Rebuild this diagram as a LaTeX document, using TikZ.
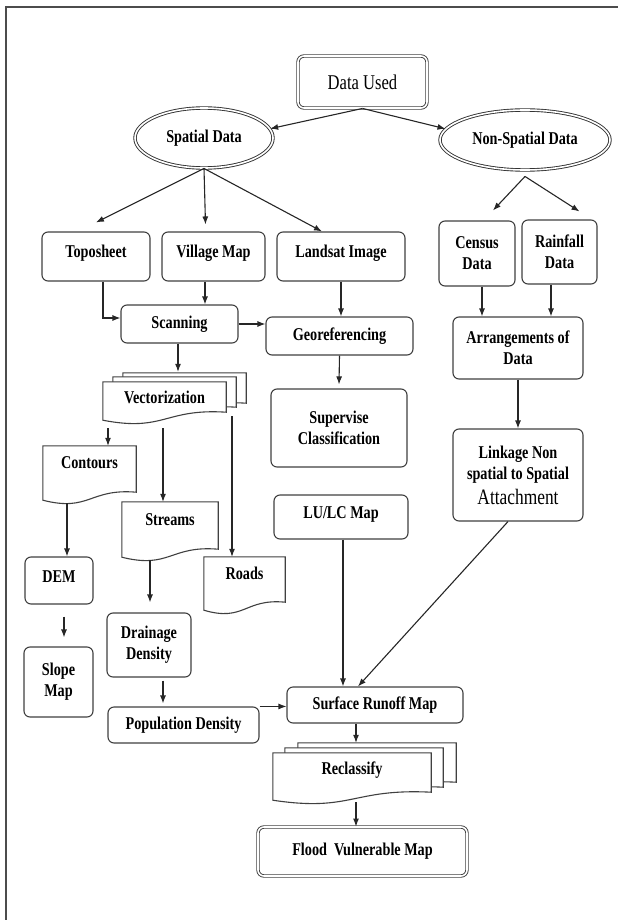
\documentclass[tikz,border=0pt]{standalone}
\usepackage{fontspec}
\setmainfont[FakeStretch=0.79]{Liberation Serif}
\usetikzlibrary{arrows.meta}
\usetikzlibrary{shapes.geometric}
\usetikzlibrary{calc}
\usetikzlibrary{backgrounds}

\newcommand{\bfont}{\fontsize{18}{21}\selectfont\bfseries}
% page with a wavy foot, drawn round a node and moved by (#2,#3)
\newcommand{\docpage}[3]{%
  \draw[page] ($(#1.north west)+(#2,#3)$) -- ($(#1.south west)+(#2,#3)$)
    .. controls ($(#1.south)+(#2,#3-12)$) and ($(#1.south)+(#2,#3+12)$)
    .. ($(#1.south east)+(#2,#3+8)$) -- ($(#1.north east)+(#2,#3)$) -- cycle;}

\begin{document}
\begin{tikzpicture}[x=1pt,y=1pt,>={Latex[length=8pt,width=6pt]},
  box/.style={draw=black!75,line width=1.1pt,rounded corners=6pt,fill=white,align=center,inner sep=2pt,font=\bfont},
  dbox/.style={box,double,double distance=1.6pt,line width=0.9pt},
  dell/.style={ellipse,draw=black!80,line width=0.9pt,double,double distance=1.6pt,inner sep=0pt,font=\bfont},
  doc/.style={inner sep=2pt,align=center,font=\bfont},
  page/.style={draw=black!75,line width=1.1pt,fill=white},
  arr/.style={->,line width=1.1pt,black!85},
  frame/.style={line width=1.8pt,black!70}]

	\useasboundingbox (0,0) rectangle (618,-920);

	% frame
	\draw[frame] (6,-920) -- (6,-7) -- (618,-7);

	% top
	\node[dbox,minimum width=129pt,minimum height=52pt,font=\fontsize{21}{24}\selectfont] (used) at (362.5,-82) {Data Used};
	\node[dell,minimum width=138pt,minimum height=60pt] (spatial) at (204,-138) {Spatial Data};
	\node[dell,minimum width=170pt,minimum height=60pt] (nonsp) at (525,-140) {Non-Spatial Data};

	% sources
	\node[box,minimum width=108pt,minimum height=49pt,text depth=10pt] (topo) at (96,-256.5) {Toposheet};
	\node[box,minimum width=103pt,minimum height=49pt,text depth=10pt] (village) at (213.5,-256.5) {Village Map};
	\node[box,minimum width=128pt,minimum height=49pt,text depth=10pt] (landsat) at (341,-256.5) {Landsat Image};
	\node[box,minimum width=76pt,minimum height=65pt] (census) at (477,-253.5) {Census\\Data};
	\node[box,minimum width=75pt,minimum height=64pt] (rainfall) at (559.5,-252) {Rainfall\\Data};

	% processing
	\node[box,minimum width=117pt,minimum height=38pt] (scan) at (179.5,-324) {Scanning};
	\node[box,minimum width=147pt,minimum height=38pt] (georef) at (339.5,-336) {Georeferencing};
	\node[box,minimum width=130pt,minimum height=62pt] (arrange) at (518,-348) {Arrangements of\\Data};
	\node[box,minimum width=136pt,minimum height=78pt] (superv) at (339,-428) {Supervise\\Classification};
	\node[box,minimum width=130pt,minimum height=92pt] (link) at (518,-475)
		{Linkage Non\\spatial to Spatial\\[4pt]{\mdseries\fontsize{22}{24}\selectfont Attachment}};

	% vector layers
	\node[doc,minimum width=123pt,minimum height=38pt,text depth=8pt] (vector) at (164.5,-401) {Vectorization};
	\node[doc,minimum width=93pt,minimum height=54pt,text depth=20pt] (contours) at (89.5,-473) {Contours};
	\node[doc,minimum width=96pt,minimum height=55pt,text depth=19pt] (streams) at (170,-529.5) {Streams};
	\node[doc,minimum width=81pt,minimum height=53pt,text depth=21pt] (roads) at (244.5,-583.5) {Roads};

	% derived maps
	\node[box,minimum width=68pt,minimum height=47pt,text depth=7pt] (dem) at (59,-580.5) {DEM};
	\node[box,minimum width=69pt,minimum height=70pt] (slope) at (58.5,-682) {Slope\\Map};
	\node[box,minimum width=84pt,minimum height=64pt] (drain) at (149,-645) {Drainage\\Density};
	\node[box,minimum width=151pt,minimum height=36pt] (pop) at (183.5,-725) {Population Density};
	\node[box,minimum width=134pt,minimum height=44pt,text depth=8pt] (lulc) at (341,-517) {LU/LC Map};
	\node[box,minimum width=176pt,minimum height=36pt] (surface) at (375,-705) {Surface Runoff Map};
	\node[doc,minimum width=158pt,minimum height=47pt,text depth=17pt] (reclass) at (352,-776.5) {Reclassify};
	\node[dbox,minimum width=209pt,minimum height=49pt] (flood) at (362.5,-851.5) {Flood~ Vulnerable Map};

	% pages
	\begin{pgfonlayer}{background}
		\docpage{vector}{20}{9}
		\docpage{vector}{10}{5}
		\docpage{vector}{0}{0}
		\docpage{contours}{0}{0}
		\docpage{streams}{0}{0}
		\docpage{roads}{0}{0}
		\docpage{reclass}{25}{10}
		\docpage{reclass}{12}{5}
		\docpage{reclass}{0}{0}
	\end{pgfonlayer}

	% Arrows
	\draw[arr] (used.south) -- (spatial.8);
	\draw[arr] (used.south) -- (nonsp.172);
	\draw[arr] (spatial.south) -- ([yshift=9pt]topo.north);
	\draw[arr] (spatial.south) -- ([xshift=-8pt,yshift=7pt]village.north);
	\draw[arr] (spatial.south) -- ([xshift=-19pt]landsat.north);
	\draw[arr] ([yshift=-6pt]nonsp.south) -- ([xshift=16pt,yshift=10pt]census.north);
	\draw[arr] ([yshift=-6pt]nonsp.south) -- ([xshift=20pt,yshift=8pt]rainfall.north);

	\draw[arr] ([xshift=7pt]topo.south) |- ([yshift=6pt]scan.west);
	\draw[arr] ([xshift=-8.5pt]village.south) -- ([xshift=25.5pt]scan.north);
	\draw[arr] (scan.east) -- (scan.east -| georef.west);
	\draw[arr] (landsat.south) -- (landsat.south |- georef.north);
	\draw[arr] (georef.south) -- ([yshift=4pt]superv.north);
	\draw[arr] ([xshift=5pt]census.south) -- ([xshift=-36pt]arrange.north);
	\draw[arr] ([xshift=-8.5pt]rainfall.south) -- ([xshift=33pt]arrange.north);
	\draw[arr] (arrange.south) -- (link.north);

	\draw[arr] ([xshift=-1.5pt]scan.south) -- ([xshift=13.5pt,yshift=10pt]vector.north);
	\draw[arr] ([xshift=-56.5pt,yshift=-8pt]vector.south) -- ([xshift=18.5pt]contours.north);
	\draw[arr] ([xshift=-1.5pt,yshift=-8pt]vector.south) -- ([xshift=-7pt]streams.north);
	\draw[arr] ([xshift=67.5pt,yshift=4pt]vector.south) -- ([xshift=-12.5pt]roads.north);

	\draw[arr] ([xshift=-22.5pt,yshift=-3pt]contours.south) -- ([xshift=8pt]dem.north);
	\draw[arr] ([xshift=5pt,yshift=-12pt]dem.south) -- ([xshift=5.5pt,yshift=9pt]slope.north);
	\draw[arr] ([xshift=-20pt,yshift=-3pt]streams.south) -- ([xshift=1pt,yshift=10pt]drain.north);
	\draw[arr] ([xshift=14pt,yshift=-3pt]drain.south) -- ([xshift=-20.5pt,yshift=3pt]pop.north);
	\draw[arr] (pop.north east) -- (pop.north east -| surface.west);
	\draw[arr] ([xshift=2pt]lulc.south) -- ([xshift=-32pt]surface.north);
	\draw[arr] ([xshift=-10pt]link.south) -- ([xshift=-17pt]surface.north);
	\draw[arr] ([xshift=-19pt]surface.south) -- ([xshift=4pt,yshift=10pt]reclass.north);
	\draw[arr] ([xshift=4pt,yshift=-2pt]reclass.south) -- ([xshift=-6.5pt]flood.north);

\end{tikzpicture}
\end{document}
